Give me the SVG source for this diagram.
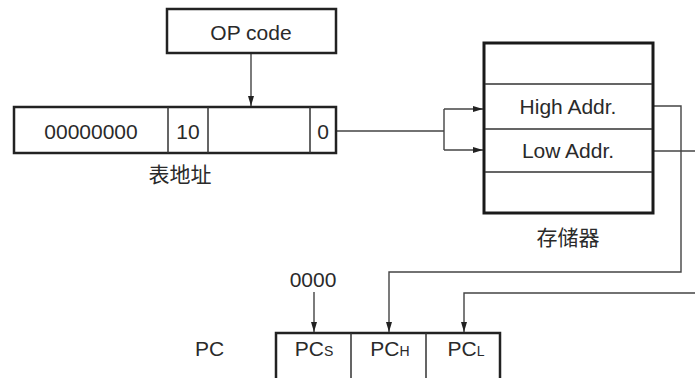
<svg xmlns="http://www.w3.org/2000/svg" width="695" height="378" viewBox="0 0 695 378">
<style>
text{font-family:"Liberation Sans",Arial,"Noto Sans CJK SC",sans-serif;font-size:21px;fill:#2a2a2a}
.c{text-anchor:middle}
.box{fill:#fff;stroke:#222;stroke-width:2.5}
.mem{fill:#fff;stroke:#1a1a1a;stroke-width:3}
.div{stroke:#333;stroke-width:1.5;fill:none}
.ln{stroke:#444;stroke-width:1.4;fill:none}
.sub{font-size:14px}
</style>
<defs>
<marker id="ah" viewBox="0 0 10 6" refX="10" refY="3" markerWidth="10" markerHeight="6" markerUnits="userSpaceOnUse" orient="auto">
<path d="M0,0 L10,3 L0,6 Z" fill="#222"/>
</marker>
</defs>
<g id="connectors">
<path class="ln" d="M251,53 V106" marker-end="url(#ah)"/>
<path class="ln" d="M336,131 H444 M444,109 V150"/>
<path class="ln" d="M444,109 H483" marker-end="url(#ah)"/>
<path class="ln" d="M444,150 H483" marker-end="url(#ah)"/>
<path class="ln" d="M653,106 H681 V272 H389 V332" marker-end="url(#ah)"/>
<path class="ln" d="M653,151 H695"/>
<path class="ln" d="M695,293 H464 V332" marker-end="url(#ah)"/>
<path class="ln" d="M314,292 V332" marker-end="url(#ah)"/>
</g>
<g id="opcode">
<rect class="box" x="167" y="9" width="169" height="44"/>
<text class="c" x="251" y="40">OP code</text>
</g>
<g id="table-address">
<rect class="box" x="14" y="107" width="322" height="46"/>
<path class="div" d="M168,107 V153 M208,107 V153 M310,107 V153"/>
<text class="c" x="91" y="139">00000000</text>
<text class="c" x="188" y="139">10</text>
<text class="c" x="323" y="139">0</text>
<text class="c" x="180" y="182">表地址</text>
</g>
<g id="memory">
<rect class="mem" x="484" y="43" width="169" height="170"/>
<path class="div" d="M485,84 H652 M485,129 H652 M485,172 H652"/>
<text class="c" x="568" y="114">High Addr.</text>
<text class="c" x="568" y="158">Low Addr.</text>
<text class="c" x="568" y="245">存储器</text>
</g>
<g id="zero">
<text class="c" x="313" y="287">0000</text>
</g>
<g id="pc">
<text x="195" y="356">PC</text>
<rect class="box" x="276" y="333" width="224" height="50"/>
<path class="div" d="M351,333 V378 M426,333 V378"/>
<text class="c" x="314" y="356">PC<tspan class="sub">S</tspan></text>
<text class="c" x="390" y="356">PC<tspan class="sub">H</tspan></text>
<text class="c" x="466" y="356">PC<tspan class="sub">L</tspan></text>
</g>
</svg>
